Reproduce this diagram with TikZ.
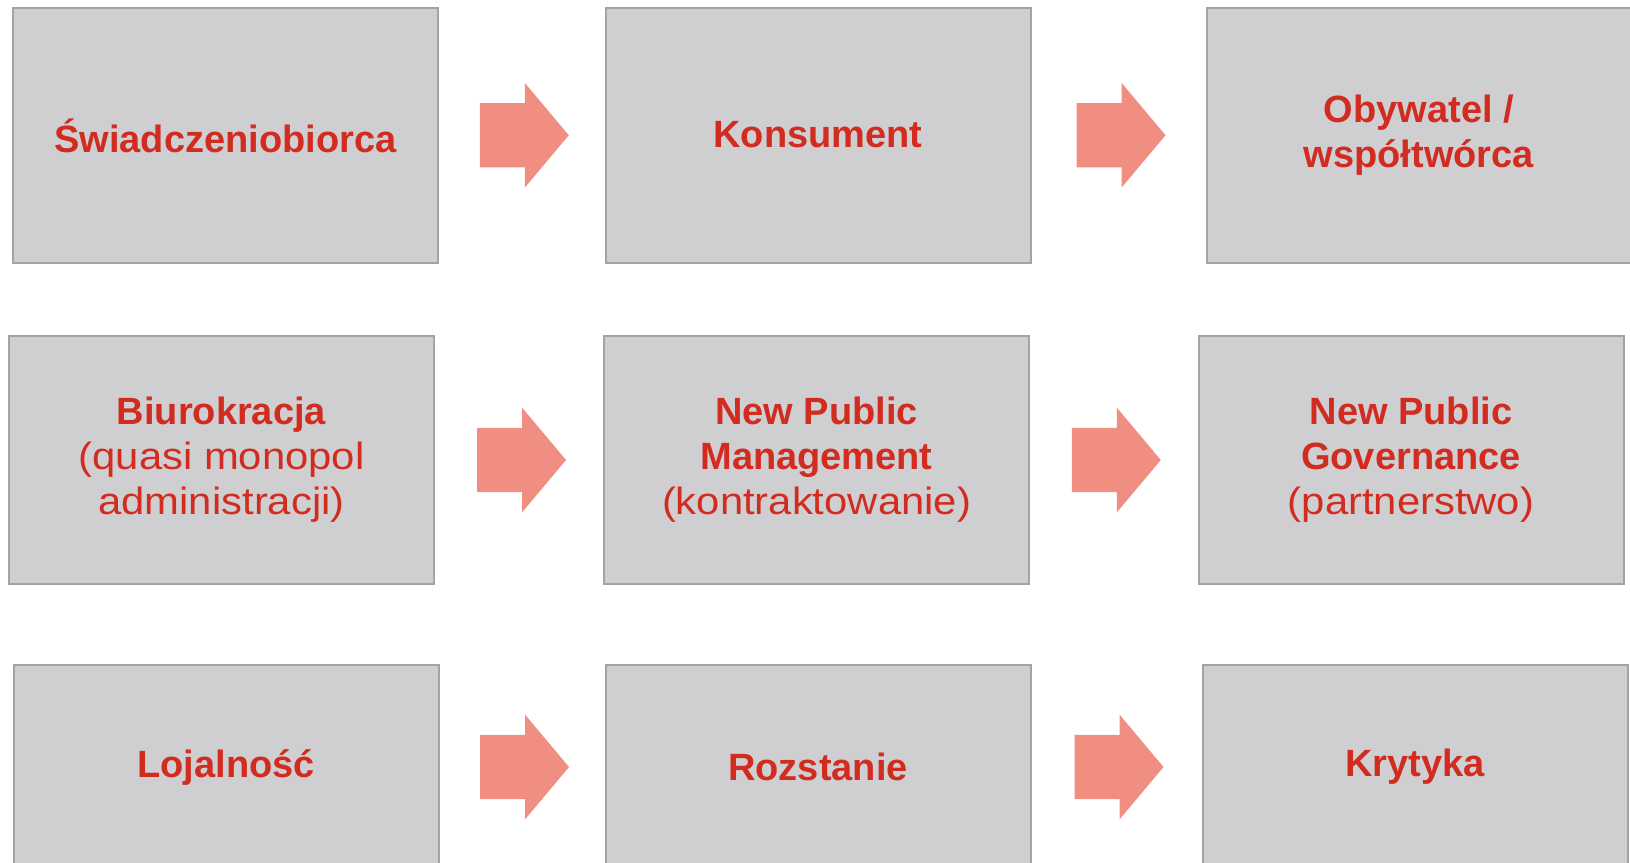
\documentclass[tikz,border=0pt]{standalone}
\usepackage{fontspec}
\setmainfont{Liberation Sans}
\newfontfamily\subfont[FakeStretch=1.1]{Liberation Sans}
\usetikzlibrary{shapes.arrows,calc}
\definecolor{boxgrey}{HTML}{CFCFD1}
\definecolor{boxline}{HTML}{A3A3A5}
\definecolor{textred}{HTML}{D22B1F}
\definecolor{arrowred}{HTML}{F08F81}
\tikzset{
  stage/.style={draw=boxline, line width=2pt, fill=boxgrey, minimum width=425pt,
    minimum height=250pt, align=center, text=textred,
    font=\fontsize{38}{45}\selectfont},
  blockarrow/.style={shape=single arrow, fill=arrowred, draw=none, inner xsep=0pt,
    inner ysep=32pt, minimum height=89pt, single arrow head extend=20pt,
    single arrow tip angle=100, xshift=-11pt}
}

\begin{document}
\begin{tikzpicture}[x=1pt, y=-1pt]
        \useasboundingbox (0,0) rectangle (1630,862);

        % row 1
        \node[stage, minimum height=255pt] (swiad) at (225.5,135.5) {\textbf{Świadczeniobiorca}};
        \node[stage, minimum height=255pt] (konsument) at (818,135) {\textbf{Konsument}};
        \node[stage, minimum height=255pt] (obywatel) at (1419,135.5) {\textbf{Obywatel /}\\\textbf{współtwórca}};

        % row 2
        \node[stage, minimum height=248pt] (biuro) at (221.5,460) {\textbf{Biurokracja}\\{\subfont(quasi monopol}\\{\subfont administracji)}};
        \node[stage, minimum height=248pt] (npm) at (816.5,460) {\textbf{New Public}\\\textbf{Management}\\{\subfont(kontraktowanie)}};
        \node[stage, minimum height=248pt] (npg) at (1411,460) {\textbf{New Public}\\\textbf{Governance}\\{\subfont(partnerstwo)}};

        % row 3 (cut by the lower edge)
        \node[stage, minimum height=204pt] (lojal) at (226,767) {\textbf{Lojalność}};
        \node[stage, minimum height=204pt] (rozst) at (818,767) {\textbf{Rozstanie}};
        \node[stage, minimum height=204pt] (kryt) at (1415,767) {\textbf{Krytyka}};

        % arrows between the stages
        \node[blockarrow] (a1) at ($(swiad.east)!0.5!(konsument.west)$) {};
        \node[blockarrow] (a2) at ($(konsument.east)!0.5!(obywatel.west)$) {};
        \node[blockarrow] (a3) at ($(biuro.east)!0.5!(npm.west)$) {};
        \node[blockarrow] (a4) at ($(npm.east)!0.5!(npg.west)$) {};
        \node[blockarrow] (a5) at ($(lojal.east)!0.5!(rozst.west)$) {};
        \node[blockarrow] (a6) at ($(rozst.east)!0.5!(kryt.west)$) {};

    \end{tikzpicture}
\end{document}
